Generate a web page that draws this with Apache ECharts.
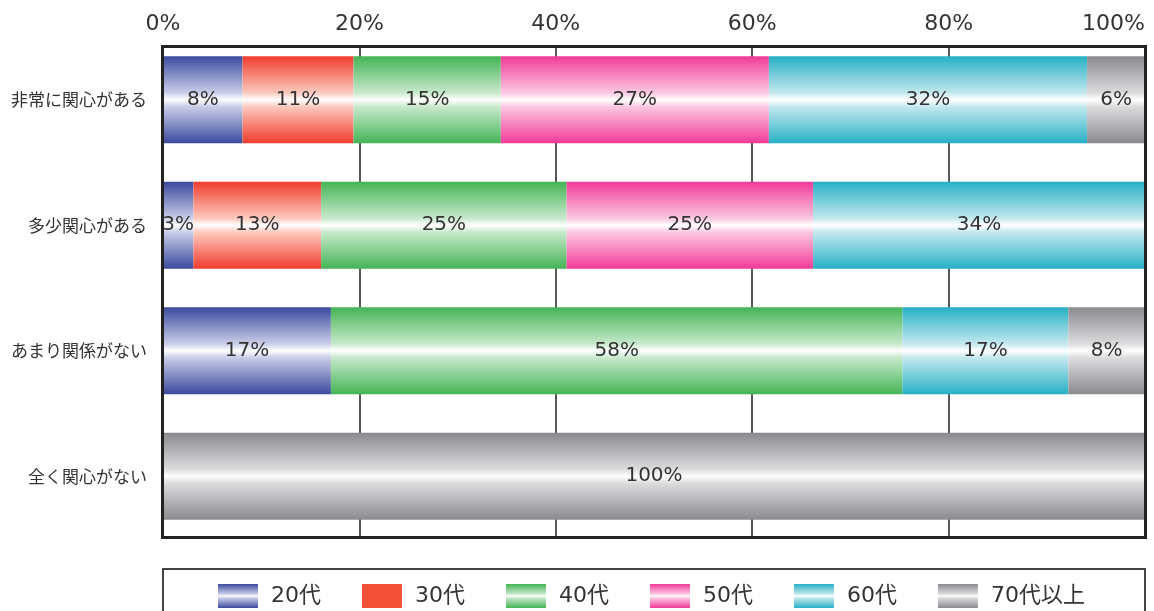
<!DOCTYPE html>
<html>
<head>
<meta charset="utf-8">
<script src="https://cdn.jsdelivr.net/npm/echarts@6/dist/echarts.min.js"></script>
<style>
html,body{margin:0;padding:0;background:#fff;}
#c{width:1154px;height:611px;}
</style>
</head>
<body>
<div id="c"></div>
<script>
const categories = ['非常に関心がある', '多少関心がある', 'あまり関係がない', '全く関心がない'];
const seriesNames = ['20代', '30代', '40代', '50代', '60代', '70代以上'];
const v20 = [8.1, 3.1, 17.1, 0];
const v30 = [11.3, 13.0, 0, 0];
const v40 = [15.0, 25.0, 58.2, 0];
const v50 = [27.3, 25.1, 0, 0];
const v60 = [32.4, 33.8, 16.9, 0];
const v70 = [5.9, 0, 7.8, 100];
const xTicks = [0, 20, 40, 60, 80, 100];

const values = [v20, v30, v40, v50, v60, v70];
const baseColors = ['#3a4a9e', '#f03c2c', '#44b455', '#f03a98', '#26b0c5', '#8a8a8f'];
const lightColors = ['#c9cde8', '#fcc9bd', '#c7e9cb', '#fcc7e0', '#c3e8ee', '#dcdcde'];
const FONT = "'DejaVu Sans', 'Noto Sans CJK JP', sans-serif";

function grad(i) {
  return {
    type: 'linear', x: 0, y: 0, x2: 0, y2: 1,
    colorStops: [
      { offset: 0, color: baseColors[i] },
      { offset: 0.42, color: lightColors[i] },
      { offset: 0.5, color: '#ffffff' },
      { offset: 0.58, color: lightColors[i] },
      { offset: 1, color: baseColors[i] }
    ]
  };
}

const chart = echarts.init(document.getElementById('c'), null, { renderer: 'canvas' });
chart.setOption({
  animation: false,
  backgroundColor: '#fff',
  textStyle: { fontFamily: FONT },
  grid: { left: 163, right: 9, top: 37, bottom: 72 },
  xAxis: {
    type: 'value', position: 'top', min: 0, max: 100, interval: 20,
    axisLine: { show: false }, axisTick: { show: false },
    axisLabel: {
      formatter: '{value}%', fontSize: 22, color: '#333', margin: 2,
      fontFamily: FONT, alignMaxLabel: 'right'
    },
    splitLine: { show: true, lineStyle: { color: '#222', width: 1.5 } }
  },
  yAxis: {
    type: 'category', inverse: true, data: categories,
    axisLine: { show: false }, axisTick: { show: false },
    axisLabel: { fontSize: 17, color: '#333', margin: 16, fontFamily: "'Noto Sans CJK JP', sans-serif" }
  },
  legend: {
    left: 213, top: 579, itemWidth: 40, itemHeight: 24, itemGap: 41, icon: 'rect',
    textStyle: { fontSize: 22, color: '#333', fontFamily: FONT, padding: [0, 0, 0, 8] },
    data: seriesNames.map((n, i) => i === 1
      ? { name: n, itemStyle: { color: '#f25038' } }
      : { name: n })
  },
  series: seriesNames.map((n, i) => ({
    name: n, type: 'bar', stack: 'total', barWidth: 87,
    data: values[i],
    itemStyle: { color: grad(i) },
    label: {
      show: true, position: 'inside', color: '#333', fontSize: 20, fontFamily: FONT,
      formatter: p => p.value > 0 ? Math.round(p.value) + '%' : ''
    }
  })),
  graphic: [
    { type: 'rect', z: 99, shape: { x: 150, y: 35, width: 1000, height: 11 },
      style: { fill: '#fff' } },
    { type: 'rect', z: 100, shape: { x: 162.5, y: 46.5, width: 983, height: 491 },
      style: { fill: 'none', stroke: '#222', lineWidth: 3 } },
    { type: 'rect', z: 100, shape: { x: 163, y: 569, width: 982, height: 60 },
      style: { fill: 'none', stroke: '#444', lineWidth: 2 } }
  ]
});
</script>
</body>
</html>
